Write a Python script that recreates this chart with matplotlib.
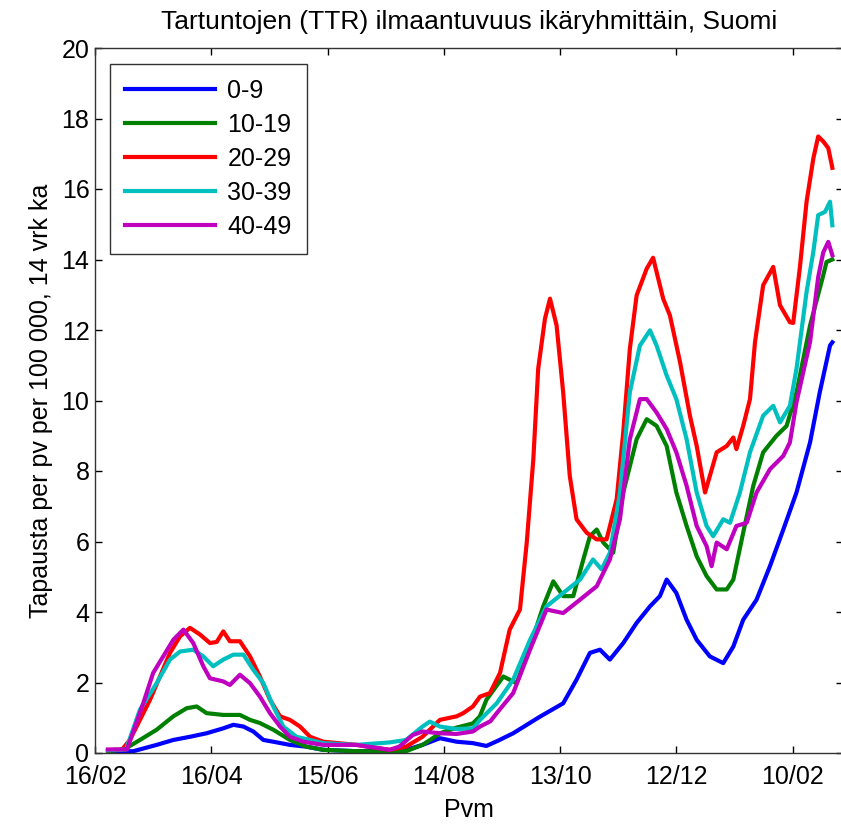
import datetime
import matplotlib
matplotlib.use("Agg")
import matplotlib.pyplot as plt
import matplotlib.dates as mdates

plt.rcParams['font.family'] = ['Liberation Sans', 'DejaVu Sans']

start = datetime.datetime(2020, 2, 16)

# day offsets from 16/02/2020 and values (cases per day per 100 000, 14 day avg)
d_0_9 = [6.7, 19.7, 31.8, 40.4, 49, 57.6, 66.2, 71.4, 76.6, 81.7, 86.9, 92, 100.6, 109, 117.8, 135, 160.5, 169, 178,
         186.6, 195, 202, 208, 215.8, 229.6, 241.6, 248.5, 255.4, 260.6, 265.7, 272.6, 279.5, 286.4, 291.5, 295, 300,
         305.3, 310.5, 317.3, 324.2, 329.4, 334.5, 341.4, 348.3, 355.2, 362, 369, 374, 379.3, 380.5]
v_0_9 = [0.05, 0.05, 0.23, 0.37, 0.46, 0.56, 0.70, 0.80, 0.75, 0.61, 0.37, 0.32, 0.23, 0.18, 0.09, 0.05, 0.09, 0.23, 0.42,
         0.32, 0.28, 0.20, 0.35, 0.56, 1.03, 1.41, 2.08, 2.84, 2.93, 2.65, 3.12, 3.69, 4.16, 4.45, 4.92, 4.54,
         3.78, 3.21, 2.74, 2.55, 3.02, 3.78, 4.35, 5.30, 6.34, 7.39, 8.81, 10.23, 11.56, 11.65]

d_10_19 = [6.7, 14.9, 23.2, 31.8, 40.4, 47.3, 52.5, 57.6, 66.2, 74.8, 80, 85.1, 92, 100.6, 109, 117.8, 135, 160.5, 169,
           172.9, 178, 186.6, 195, 198.6, 202, 210.7, 217.6, 224.5, 231.3, 236.5, 241.6, 246.8, 252, 255.4, 258.9,
           262.3, 267.4, 272.6, 279.5, 284.7, 289.8, 295, 300, 305.3, 310.5, 315.6, 320.8, 326, 329.4, 334.5, 339.7,
           344.8, 351.7, 356.9, 362, 369, 375.8, 377.5, 380.5]
v_10_19 = [0.05, 0.10, 0.37, 0.66, 1.04, 1.27, 1.32, 1.13, 1.08, 1.08, 0.94, 0.85, 0.66, 0.37, 0.18, 0.09, 0.05, 0.05, 0.23,
           0.37, 0.56, 0.72, 0.84, 1.04, 1.51, 2.17, 1.98, 3.02, 4.16, 4.87, 4.45, 4.45, 5.49, 6.15, 6.34,
           5.97, 5.68, 7.39, 8.90, 9.47, 9.28, 8.71, 7.39, 6.44, 5.58, 5.02, 4.64, 4.64, 4.92, 6.25, 7.58,
           8.53, 9.00, 9.28, 10.23, 12.13, 13.55, 13.93, 14.0]

d_20_29 = [6.7, 14, 18, 23.2, 28.4, 33.5, 38.7, 43.9, 49, 54.2, 59.3, 62.8, 66.2, 69.6, 74.8, 80, 85.1, 90.3, 95.5, 100.6,
           105.8, 111, 117.8, 135, 152, 160.5, 169, 178, 186.6, 190, 195, 198.7, 203.8, 209, 214, 219.3, 222.8, 226.2,
           228.7, 232.2, 234.8, 238.2, 241.6, 245, 248.5, 253.7, 258.9, 264, 269.2, 272.6, 276, 279.5, 284.7, 288,
           293.2, 296.7, 301.9, 307, 310.5, 314.8, 317.3, 320.8, 326, 329.4, 331, 334.5, 338, 340.6, 344.8, 350,
           353.5, 358.6, 360.3, 363.8, 367.2, 370.7, 373.2, 375.8, 378.4, 380.5]
v_20_29 = [0.08, 0.10, 0.37, 0.94, 1.51, 2.17, 2.84, 3.31, 3.55, 3.36, 3.12, 3.15, 3.45, 3.17, 3.17, 2.74, 2.17, 1.51, 1.04, 0.94,
           0.75, 0.46, 0.32, 0.23, 0.09, 0.18, 0.46, 0.94, 1.04, 1.13, 1.32, 1.60, 1.70, 2.27, 3.50, 4.07, 5.97, 8.34,
           10.9, 12.32, 12.89, 12.13, 10.23, 7.86, 6.63, 6.25, 6.06, 6.06, 7.20, 9.10, 11.46, 12.98, 13.74, 14.05,
           12.89, 12.41, 11.09, 9.57, 8.71, 7.39, 7.86, 8.53, 8.71, 8.95, 8.62, 9.28, 10.04, 11.66, 13.27, 13.79,
           12.70, 12.22, 12.20, 13.80, 15.64, 16.87, 17.49, 17.35, 17.16, 16.60]

d_30_39 = [6.7, 16, 23.2, 31.8, 38.7, 43.9, 50.7, 55.9, 61, 66.2, 71.4, 76.6, 81.7, 86.9, 92, 97.2, 104, 117.8, 135, 152,
           160.5, 169, 172.8, 178, 186.6, 195, 198.7, 207.3, 215.8, 224.5, 233, 241.6, 250.3, 257, 261.4, 265.7,
           270.9, 276, 281.2, 286.4, 289.8, 295, 300, 305.3, 310.5, 315.6, 319, 324.2, 327.7, 332.8, 338, 344.8,
           350, 353.5, 358.6, 362, 367.2, 370.7, 373.2, 376.7, 379.3, 380.5]
v_30_39 = [0.08, 0.10, 1.23, 1.98, 2.65, 2.88, 2.93, 2.74, 2.46, 2.65, 2.79, 2.79, 2.36, 1.98, 1.32, 0.75, 0.46, 0.28, 0.23, 0.30,
           0.37, 0.75, 0.89, 0.75, 0.68, 0.70, 0.94, 1.41, 2.08, 3.21, 4.16, 4.54, 4.92, 5.49, 5.21, 5.68,
           7.39, 10.23, 11.56, 11.99, 11.56, 10.71, 10.04, 8.90, 7.39, 6.44, 6.15, 6.63, 6.53, 7.39, 8.53, 9.57,
           9.85, 9.38, 9.85, 10.90, 13.08, 14.22, 15.26, 15.35, 15.64, 14.97]

d_40_49 = [6.7, 16.5, 24.9, 30, 35.2, 40.4, 45.6, 50.7, 55.9, 59.3, 66.2, 69.6, 74.8, 80, 85.1, 90.3, 95.5, 100.6, 107.5,
           117.8, 135, 152, 157, 164, 169, 178, 186.6, 195, 198.7, 204, 207.3, 215.8, 224.5, 233, 241.6, 250.3,
           258.9, 265.7, 270.9, 276, 281.2, 284.7, 289.8, 295, 300, 305.3, 310.5, 315.6, 318.2, 320.8, 326, 331,
           336.3, 341.4, 348.3, 355.2, 358.6, 362, 369, 373.2, 375.8, 378.4, 380.5]
v_40_49 = [0.10, 0.10, 1.41, 2.27, 2.74, 3.21, 3.50, 3.12, 2.46, 2.12, 2.03, 1.93, 2.22, 1.98, 1.60, 1.13, 0.75, 0.46, 0.32,
           0.23, 0.23, 0.09, 0.18, 0.51, 0.61, 0.56, 0.54, 0.61, 0.75, 0.90, 1.13, 1.70, 2.93, 4.07, 3.97, 4.35,
           4.73, 5.49, 6.63, 8.90, 10.04, 10.04, 9.66, 9.19, 8.53, 7.58, 6.44, 5.87, 5.30, 5.97, 5.78, 6.44,
           6.53, 7.39, 8.05, 8.43, 8.81, 9.95, 11.66, 13.50, 14.20, 14.50, 14.12]

labels = ['0-9', '10-19', '20-29', '30-39', '40-49']
colors = ['#0000ff', '#008000', '#ff0000', '#00bfbf', '#bf00bf']
series = [(d_0_9, v_0_9), (d_10_19, v_10_19), (d_20_29, v_20_29), (d_30_39, v_30_39), (d_40_49, v_40_49)]


def to_dates(days):
    return [start + datetime.timedelta(days=d) for d in days]


fig = plt.figure(figsize=(8.41, 8.25), dpi=100)
ax = fig.add_axes([95 / 841, 72 / 825, 748 / 841, 705 / 825])

for (d, v), lab, col in zip(series, labels, colors):
    ax.plot(to_dates(d), v, color=col, lw=3, label=lab, solid_joinstyle='round')

ax.set_xlim(start, start + datetime.timedelta(days=386))
ax.set_ylim(0, 20)
ax.set_yticks(range(0, 21, 2))
ax.set_xticks(to_dates(range(0, 361, 60)))
ax.xaxis.set_major_formatter(mdates.DateFormatter('%d/%m'))
ax.tick_params(direction='in', length=5, width=1, top=True, right=True, labelsize=18, pad=4)
ax.tick_params(axis='x', pad=9)
for s in ax.spines.values():
    s.set_linewidth(1.0)
    s.set_color('#333333')

ax.set_title('Tartuntojen (TTR) ilmaantuvuus ikäryhmittäin, Suomi', fontsize=19, pad=14)
ax.set_xlabel('Pvm', fontsize=18, labelpad=6)
ax.set_ylabel('Tapausta per pv per 100 000, 14 vrk ka', fontsize=18, labelpad=6)

leg = ax.legend(loc='upper left', bbox_to_anchor=(15 / 748, 1 - 16 / 705), fontsize=18,
                handlelength=3.6, handletextpad=0.5, labelspacing=0.4, borderpad=0.6,
                fancybox=False, framealpha=1, edgecolor='#333333', borderaxespad=0)
leg.get_frame().set_linewidth(1.0)

fig.savefig('out.png', dpi=100)
